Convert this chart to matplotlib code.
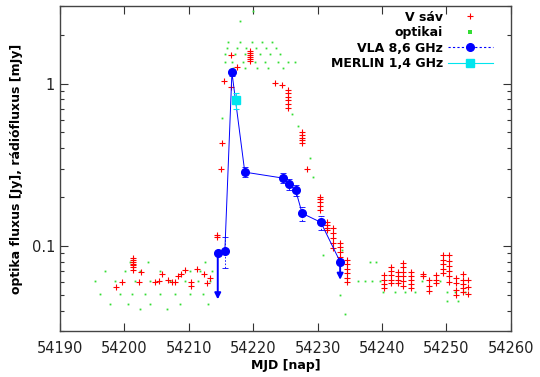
import matplotlib
matplotlib.use("Agg")
import matplotlib.pyplot as plt
from matplotlib.lines import Line2D
from matplotlib.ticker import LogLocator, NullFormatter, FixedLocator, FixedFormatter

# ---------------- data ----------------
# V band (red +)
v_mjd = [54198.7, 54199.6,
         54201.4, 54201.4, 54201.4, 54201.4, 54201.4, 54201.4, 54201.4,
         54202.6, 54202.3, 54204.8, 54205.4, 54205.9, 54206.8, 54207.4, 54207.9,
         54208.3, 54208.8, 54209.4, 54210.3, 54210.4, 54211.3, 54212.4, 54212.8,
         54213.3, 54214.4, 54214.4,
         54215.0, 54215.2, 54215.5, 54216.5, 54216.5, 54217.5,
         54219.5, 54219.5, 54219.5, 54219.5, 54219.5, 54219.5,
         54223.4, 54224.5,
         54225.4, 54225.4, 54225.4, 54225.4, 54225.4, 54225.4,
         54227.6, 54227.6, 54227.6, 54227.6, 54227.6,
         54228.4, 54230.4,
         54230.4, 54230.4, 54230.4, 54230.4,
         54231.5, 54231.5, 54231.5, 54231.5,
         54232.4, 54232.4, 54232.4, 54232.4, 54232.4,
         54233.5, 54233.5, 54233.5, 54233.5,
         54234.5, 54234.5, 54234.5, 54234.5, 54234.5, 54234.5,
         54240.3, 54240.3, 54240.3, 54240.3,
         54241.4, 54241.4, 54241.4, 54241.4, 54241.4,
         54242.5, 54242.5, 54242.5, 54242.5,
         54243.3, 54243.3, 54243.3, 54243.3, 54243.3, 54243.3,
         54244.5, 54244.5, 54244.5, 54244.5, 54244.5,
         54246.4, 54246.4,
         54247.3, 54247.3, 54247.3,
         54248.4, 54248.4, 54248.4,
         54249.5, 54249.5, 54249.5, 54249.5, 54249.5,
         54250.4, 54250.4, 54250.4, 54250.4, 54250.4, 54250.4,
         54251.5, 54251.5, 54251.5, 54251.5,
         54252.6, 54252.6, 54252.6, 54252.6, 54252.6,
         54253.4, 54253.4, 54253.4]
v_flux = [0.056, 0.060,
          0.085, 0.082, 0.080, 0.078, 0.076, 0.074, 0.071,
          0.069, 0.060, 0.060, 0.061, 0.067, 0.062, 0.060, 0.060,
          0.065, 0.067, 0.071, 0.060, 0.057, 0.072, 0.067, 0.059,
          0.064, 0.117, 0.113,
          0.30, 0.43, 1.03, 0.95, 1.50, 1.27,
          1.59, 1.55, 1.50, 1.46, 1.42, 1.38,
          1.01, 0.98,
          0.91, 0.87, 0.83, 0.79, 0.75, 0.71,
          0.50, 0.48, 0.46, 0.45, 0.43,
          0.30, 0.20,
          0.196, 0.186, 0.176, 0.166,
          0.140, 0.135, 0.130, 0.125,
          0.130, 0.121, 0.112, 0.104, 0.097,
          0.104, 0.098, 0.092, 0.086,
          0.082, 0.077, 0.072, 0.068, 0.064, 0.060,
          0.066, 0.062, 0.058, 0.055,
          0.074, 0.070, 0.066, 0.062, 0.059,
          0.069, 0.065, 0.062, 0.059,
          0.079, 0.074, 0.069, 0.065, 0.061, 0.057,
          0.069, 0.065, 0.062, 0.058, 0.055,
          0.067, 0.065,
          0.062, 0.057, 0.053,
          0.066, 0.062, 0.059,
          0.088, 0.082, 0.077, 0.072, 0.068,
          0.088, 0.081, 0.075, 0.070, 0.065, 0.060,
          0.064, 0.059, 0.054, 0.050,
          0.067, 0.062, 0.058, 0.055, 0.052,
          0.062, 0.056, 0.051]

# other optical (green dots)
o_mjd = [54200.9, 54203.7, 54212.5,
         54197.0, 54200.1, 54202.4, 54205.5, 54210.2, 54211.7, 54213.6,
         54195.4, 54198.5, 54201.6, 54204.0, 54207.1, 54209.4, 54211.4, 54213.3,
         54196.2, 54199.3, 54201.2, 54203.2, 54205.5, 54207.9, 54210.2, 54212.2,
         54197.8, 54200.6, 54204.0, 54208.6, 54213.0, 54202.4, 54206.6,
         54220.0, 54218.0,
         54216.1, 54218.0, 54219.8, 54221.4, 54222.9,
         54215.9, 54217.5, 54218.9, 54220.4, 54222.0, 54223.5,
         54215.6, 54217.2, 54218.7, 54221.1, 54222.6, 54224.2,
         54215.6, 54216.7, 54218.4, 54220.3, 54221.8, 54223.9, 54225.4, 54226.5,
         54216.9, 54218.7, 54220.6, 54222.3, 54224.6,
         54215.2, 54226.0, 54226.9, 54228.8, 54229.3, 54230.8, 54233.8, 54233.5, 54234.3,
         54238.1, 54239.1,
         54236.3, 54237.4, 54238.4, 54239.7, 54246.2, 54249.0,
         54240.2, 54242.0, 54243.6, 54245.1, 54250.1, 54251.3, 54252.9,
         54250.1, 54251.8]
o_flux = [0.080, 0.080, 0.080,
          0.070, 0.070, 0.070, 0.070, 0.070, 0.070, 0.070,
          0.061, 0.061, 0.061, 0.061, 0.061, 0.061, 0.061, 0.061,
          0.051, 0.051, 0.051, 0.051, 0.051, 0.051, 0.051, 0.051,
          0.044, 0.044, 0.044, 0.044, 0.044, 0.041, 0.041,
          2.8, 2.44,
          1.80, 1.80, 1.80, 1.80, 1.80,
          1.65, 1.65, 1.65, 1.65, 1.65, 1.65,
          1.52, 1.52, 1.52, 1.52, 1.52, 1.52,
          1.36, 1.36, 1.36, 1.36, 1.36, 1.36, 1.36, 1.36,
          1.25, 1.25, 1.25, 1.25, 1.25,
          0.61, 0.65, 0.55, 0.35, 0.265, 0.088, 0.094, 0.050, 0.038,
          0.080, 0.080,
          0.061, 0.061, 0.061, 0.061, 0.061, 0.061,
          0.052, 0.052, 0.052, 0.052, 0.052, 0.052, 0.052,
          0.046, 0.046]

# VLA 8.6 GHz (mJy)
vla_mjd = [54214.5, 54215.6, 54216.7, 54218.7, 54224.6, 54225.6, 54226.6, 54227.6, 54230.5, 54233.5]
vla_flux = [0.090, 0.093, 1.17, 0.285, 0.262, 0.240, 0.220, 0.159, 0.140, 0.080]
vla_err = [0.0, 0.020, 0.05, 0.020, 0.018, 0.018, 0.018, 0.016, 0.014, 0.0]
vla_limit_end = [0.047, None, None, None, None, None, None, None, None, 0.062]

# MERLIN 1.4 GHz (mJy)
mer_mjd = [54217.3]
mer_flux = [0.79]
mer_err = [0.09]

xticks = [54190, 54200, 54210, 54220, 54230, 54240, 54250, 54260]

# ---------------- plot ----------------
fig = plt.figure(figsize=(5.40, 3.77), dpi=100)
ax = fig.add_axes([0.111, 0.122, 0.835, 0.862])

ax.plot(o_mjd, o_flux, ls='none', marker='s', ms=1.3, mew=0, color='#33dd33', zorder=2)
ax.plot(v_mjd, v_flux, ls='none', marker='+', ms=4.2, mew=0.8, color='#ff0000', zorder=3)

ax.plot(vla_mjd, vla_flux, '-', color='#0000ff', lw=0.7, zorder=4)
eb = ax.errorbar(vla_mjd, vla_flux, yerr=vla_err, fmt='o', color='#0000ff', ms=5.5,
                 ecolor='#0000ff', elinewidth=0.6, capsize=2.5, capthick=0.6, zorder=5)
for b in eb[2]:
    b.set_linestyle((0, (2, 2)))
for xm, yf, ye in zip(vla_mjd, vla_flux, vla_limit_end):
    if ye is not None:
        ax.annotate('', xy=(xm, ye), xytext=(xm, yf),
                    arrowprops=dict(arrowstyle='-|>', color='#0000ff', lw=1.4,
                                    mutation_scale=9, shrinkA=0, shrinkB=0), zorder=5)

ax.errorbar(mer_mjd, mer_flux, yerr=mer_err, fmt='s', color='#00e5ee', ms=5.5,
            ecolor='#00e5ee', elinewidth=0.8, capsize=2.5, capthick=0.8, zorder=6)

ax.set_yscale('log')
ax.set_xlim(54190, 54260)
ax.set_ylim(0.03, 3.0)
ax.set_xticks(xticks)
ax.set_xticklabels([str(t) for t in xticks])
ax.yaxis.set_major_locator(FixedLocator([0.1, 1]))
ax.yaxis.set_major_formatter(FixedFormatter(['0.1', '1']))
ax.yaxis.set_minor_locator(LogLocator(base=10, subs=range(2, 10)))
ax.yaxis.set_minor_formatter(NullFormatter())

ax.tick_params(which='both', direction='in', top=True, right=True, labelsize=10.5,
               color='#333333', labelcolor='#222222')
ax.tick_params(which='major', length=6, width=0.8)
ax.tick_params(which='minor', length=3, width=0.8)
ax.tick_params(axis='x', pad=7)
for s in ax.spines.values():
    s.set_color('#444444')
    s.set_linewidth(1.0)

ax.set_xlabel('MJD [nap]', fontsize=9, fontweight='bold', labelpad=2)
ax.set_ylabel('optika fluxus [Jy], rádiófluxus [mJy]', fontsize=9, fontweight='bold', labelpad=6)

handles = [
    Line2D([], [], ls='none', marker='+', ms=4, mew=0.8, color='#ff0000'),
    Line2D([], [], ls='none', marker='s', ms=2.2, mew=0, color='#33dd33'),
    Line2D([], [], ls=(0, (2, 2)), lw=0.8, marker='o', ms=5.5, color='#0000ff'),
    Line2D([], [], ls='-', lw=0.8, marker='s', ms=5.5, color='#00e5ee'),
]
labels = ['V sáv', 'optikai', 'VLA 8,6 GHz', 'MERLIN 1,4 GHz']
leg = ax.legend(handles, labels, loc='upper right', bbox_to_anchor=(0.967, 0.995),
                frameon=False, markerfirst=False,
                prop={'weight': 'bold', 'size': 9}, handlelength=3.6, handletextpad=0.4,
                labelspacing=0.2, borderaxespad=0.0, borderpad=0.25)
for t in leg.get_texts():
    t.set_ha('right')

fig.savefig('out.png', dpi=100)
